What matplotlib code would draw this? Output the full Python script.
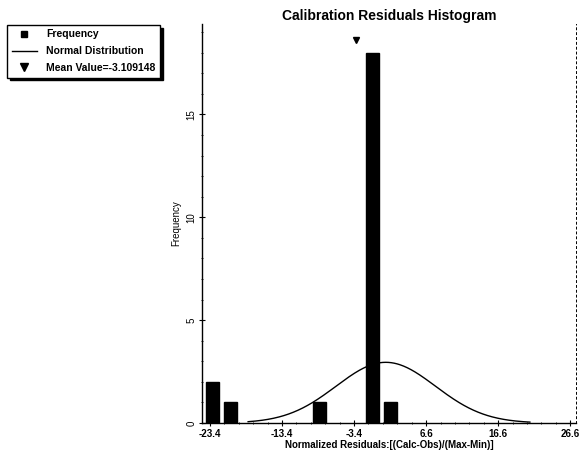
import numpy as np
import matplotlib.pyplot as plt
from matplotlib.lines import Line2D

plt.rcParams['font.family'] = ['Liberation Sans', 'DejaVu Sans']

# histogram bars
bin_centers = [-23.0, -20.5, -8.2, -0.8, 1.6]
counts = [2, 1, 1, 18, 1]

# normal curve parameters (as drawn)
norm_mu = 1.0
norm_sigma = 6.9
norm_peak = 2.95
norm_range = (-18.1, 21.0)

mean_value = -3.109148
mean_marker_y = 18.6

xticks = [-23.4, -13.4, -3.4, 6.6, 16.6, 26.6]
yticks = [0, 5, 10, 15]

fig = plt.figure(figsize=(5.83, 4.59), dpi=100)
ax = fig.add_axes([0.3465, 0.0784, 0.6415, 0.8696])

ax.bar(bin_centers, counts, width=1.8, color='black', edgecolor='black')

xs = np.linspace(norm_range[0], norm_range[1], 300)
ys = norm_peak * np.exp(-0.5 * ((xs - norm_mu) / norm_sigma) ** 2)
ax.plot(xs, ys, color='black', lw=1.0)

ax.plot([mean_value], [mean_marker_y], marker='v', color='black', markersize=5, linestyle='none')

ax.set_xlim(-24.5, 27.4)
ax.set_ylim(0, 19.4)
ax.set_xticks(xticks)
ax.set_xticklabels([f'{t:.1f}' for t in xticks], fontsize=7, fontweight='bold')
ax.set_xticks(np.arange(-23.4, 27.0, 2.0), minor=True)
ax.set_yticks(yticks)
ax.set_yticklabels([str(t) for t in yticks], fontsize=7, rotation=90, va='center')
ax.set_yticks(np.arange(0, 19.5, 1), minor=True)
ax.tick_params(which='major', direction='inout', length=4, width=0.8, pad=2)
ax.tick_params(which='minor', direction='inout', length=2, width=0.6)

ax.spines['top'].set_visible(False)
ax.spines['right'].set_linestyle((0, (2, 3)))
ax.spines['right'].set_linewidth(0.7)
ax.spines['left'].set_linewidth(1.0)
ax.spines['bottom'].set_linewidth(1.0)

ax.set_title('Calibration Residuals Histogram', fontsize=10, fontweight='bold', pad=3)
ax.set_xlabel('Normalized Residuals:[(Calc-Obs)/(Max-Min)]', fontsize=7, fontweight='bold', labelpad=1)
ax.set_ylabel('Frequency', fontsize=7, labelpad=4)

handles = [
    Line2D([], [], marker='s', color='black', linestyle='none', markersize=5),
    Line2D([], [], color='black', lw=1.0),
    Line2D([], [], marker='v', color='black', linestyle='none', markersize=6),
]
labels = ['Frequency', 'Normal Distribution', f'Mean Value={mean_value}']
leg = fig.legend(handles, labels, loc='upper left', bbox_to_anchor=(0.012, 0.946),
                 borderaxespad=0, fontsize=7.5, frameon=True, fancybox=False,
                 handlelength=2.4, handletextpad=0.9,
                 borderpad=0.45, labelspacing=0.65,
                 shadow={'color': 'black', 'alpha': 1.0})
leg.get_frame().set_edgecolor('black')
leg.get_frame().set_linewidth(1.0)
for t in leg.get_texts():
    t.set_fontweight('bold')

fig.savefig('out.png', dpi=100)
